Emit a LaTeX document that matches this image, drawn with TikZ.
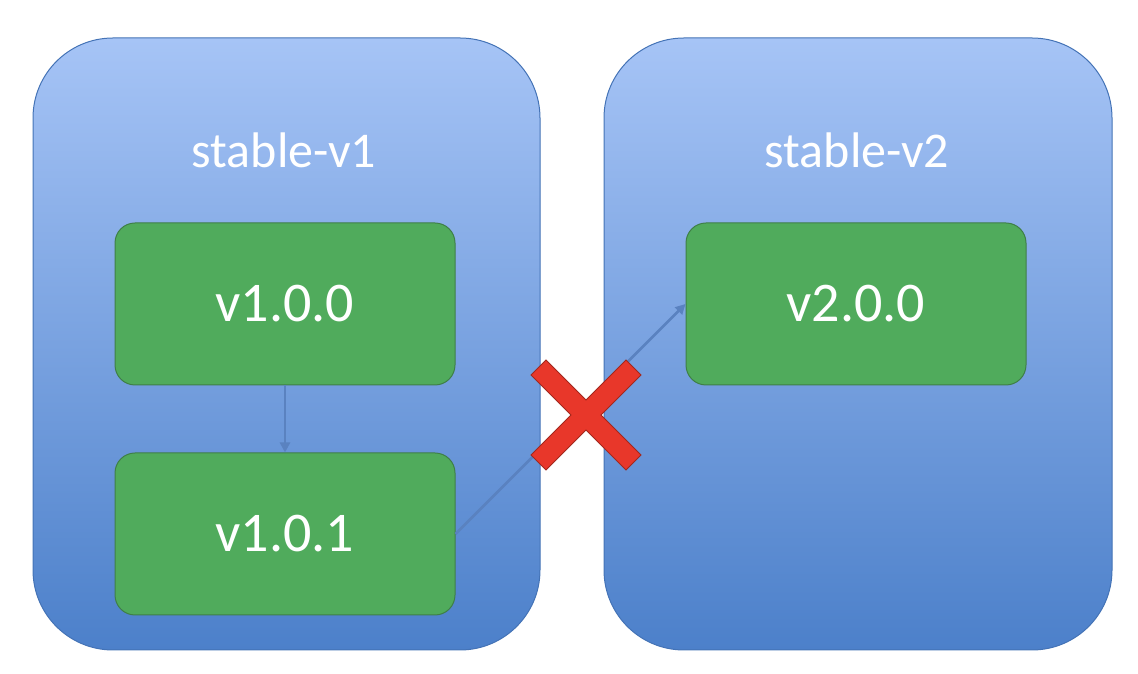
\documentclass[tikz,border=0pt]{standalone}
\usepackage{fontspec}
\setmainfont{Carlito}
\usetikzlibrary{arrows.meta}
\definecolor{topb}{HTML}{A6C4F6}
\definecolor{botb}{HTML}{4C80CA}
\definecolor{grn}{HTML}{50AB5C}
\definecolor{grnd}{HTML}{3F7F47}
\definecolor{redx}{HTML}{E8372A}
\definecolor{arr}{HTML}{5A82C0}
\tikzset{
  cont/.style={draw=botb!90!black, line width=1pt, rounded corners=80pt, top color=topb, bottom color=botb},
  ver/.style={draw=grnd, line width=1pt, fill=grn, rounded corners=20pt, minimum width=340pt, minimum height=162pt, text=white, font=\fontsize{56}{60}\selectfont},
  ttl/.style={text=white, font=\fontsize{50}{56}\selectfont},
  conn/.style={draw=arr, line width=2.5pt, -{Triangle[length=10pt,width=10pt]}}
}
\begin{document}
\begin{tikzpicture}[x=1pt,y=1pt]
\useasboundingbox (0,0) rectangle (1138,674);
\draw[cont] (33,24) rectangle (540,636);
\draw[cont] (604,24) rectangle (1112,636);
\node[ttl] (t1) at (284,524) {stable-v1};
\node[ttl] (t2) at (857,524) {stable-v2};
\node[ver] (a) at (285,370) {v1.0.0};
\node[ver] (b) at (285,140) {v1.0.1};
\node[ver] (c) at (856,370) {v2.0.0};
\draw[conn] (a) -- (b);
\draw[conn] (b.east) -- (c.west);
\begin{scope}[shift={(586,259)}]
\fill[redx, draw=redx!70!black, line width=1pt]
  (-40,-55) -- (0,-15) -- (40,-55) -- (55,-40) -- (15,0) -- (55,40) -- (40,55) -- (0,15) -- (-40,55) -- (-55,40) -- (-15,0) -- (-55,-40) -- cycle;
\end{scope}
\end{tikzpicture}
\end{document}
